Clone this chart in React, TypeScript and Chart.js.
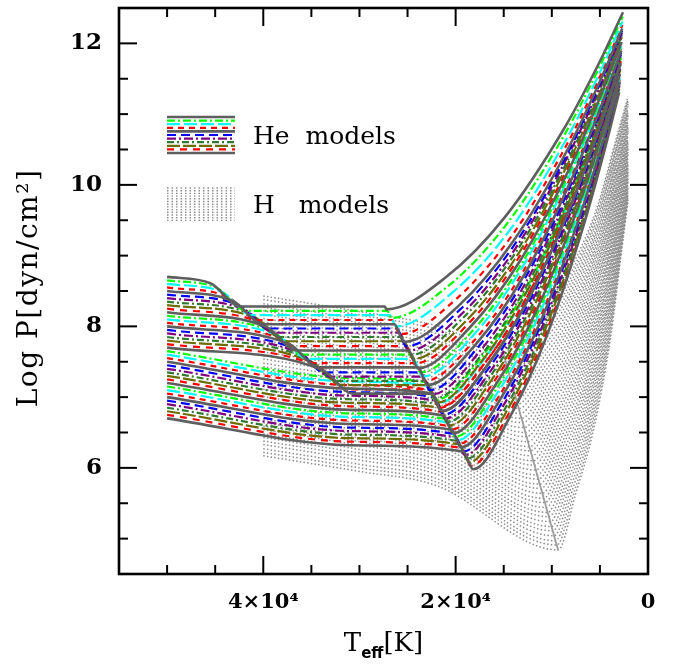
import React, { useEffect, useRef } from "react";
import { Chart, registerables } from "chart.js";

Chart.register(...registerables);

// ---------------- Axis ticks / labels ----------------
const X_LABEL_TICKS = [0, 20000, 40000];
const X_MINOR_TICKS = [5000, 10000, 15000, 25000, 30000, 35000, 45000, 50000];
const Y_LABEL_TICKS = [6, 8, 10, 12];
const Y_MINOR_TICKS = [5, 5.5, 6.5, 7, 7.5, 8.5, 9, 9.5, 10.5, 11, 11.5];
const Y_TITLE = "Log P[dyn/cm\u00B2]";
const X_TITLE_MAIN = "T";
const X_TITLE_SUB = "eff";
const X_TITLE_UNIT = "[K]";
const LEGEND_LABELS = ["He  models", "H   models"];

// ---------------- He models (41 curves, top -> bottom), Teff in kK ----------------
const HE_START_T = 50;
const HE_START_P = [8.70, 8.65, 8.60, 8.55, 8.50, 8.45, 8.40, 8.35, 8.30, 8.25, 8.20, 8.15, 8.10, 8.05, 8.00, 7.95, 7.90, 7.85, 7.80, 7.75, 7.70, 7.65, 7.60, 7.55, 7.50, 7.45, 7.40, 7.35, 7.30, 7.25, 7.20, 7.15, 7.10, 7.05, 7.00, 6.95, 6.90, 6.85, 6.80, 6.75, 6.70];
const HE_STEP_T = [45.49, 44.91, 44.32, 43.74, 43.15, 42.57, 41.99, 41.40, 40.82, 40.23, 39.65, 39.07, 38.48, 37.90, 37.31, 36.73, 36.15, 35.56, 34.98, 34.39, 33.81, null, null, null, null, null, null, null, null, null, null, null, null, null, null, null, null, null, null, null, null];
const HE_STEP_P = [8.61, 8.55, 8.49, 8.42, 8.36, 8.30, 8.24, 8.18, 8.12, 8.05, 7.99, 7.93, 7.87, 7.81, 7.75, 7.68, 7.62, 7.56, 7.50, 7.44, 7.38, null, null, null, null, null, null, null, null, null, null, null, null, null, null, null, null, null, null, null, null];
const HE_KNEE_T = [42.37, 41.79, 41.20, 40.62, 40.03, 39.45, 38.87, 38.28, 37.70, 37.11, 36.53, 35.95, 35.36, 34.78, 34.19, 33.61, 33.03, 32.44, 31.86, 31.27, 30.69, 31, 31, 31, 31, 31, 31, 31, 31, 31, 31, 31, 31, 31, 31, 31, 31, 31, 31, 31, 31];
const HE_KNEE_P = [8.28, 8.22, 8.16, 8.09, 8.03, 7.97, 7.91, 7.85, 7.79, 7.72, 7.66, 7.60, 7.54, 7.48, 7.42, 7.35, 7.29, 7.23, 7.17, 7.11, 7.05, 7.27, 7.22, 7.17, 7.12, 7.07, 7.02, 6.97, 6.92, 6.87, 6.82, 6.77, 6.72, 6.67, 6.62, 6.57, 6.52, 6.47, 6.42, 6.37, 6.32];
const HE_FOLD_T = [27.36, 27.11, 26.86, 26.62, 26.37, 26.13, 25.88, 25.64, 25.39, 25.15, 24.90, 24.66, 24.41, 24.17, 23.92, 23.68, 23.43, 23.19, 22.94, 22.69, 22.45, 23.09, 22.88, 22.68, 22.47, 22.27, 22.06, 21.86, 21.65, 21.45, 21.24, 21.04, 20.83, 20.63, 20.42, 20.21, 20.01, 19.80, 19.60, 19.39, 19.19];
const HE_FOLD_P = [8.28, 8.22, 8.16, 8.09, 8.03, 7.97, 7.91, 7.85, 7.79, 7.72, 7.66, 7.60, 7.54, 7.48, 7.42, 7.35, 7.29, 7.23, 7.17, 7.11, 7.05, 7.21, 7.16, 7.10, 7.05, 7.00, 6.95, 6.90, 6.85, 6.79, 6.74, 6.69, 6.64, 6.59, 6.54, 6.48, 6.43, 6.38, 6.33, 6.28, 6.23];
const HE_MIN_T = [27.20, 26.71, 26.22, 25.78, 25.38, 25.14, 24.89, 24.64, 24.40, 24.15, 23.91, 23.66, 23.42, 23.17, 22.93, 22.68, 22.44, 22.19, 21.95, 21.70, 21.45, 22.10, 21.89, 21.68, 21.48, 21.27, 21.07, 20.86, 20.66, 20.45, 20.25, 20.04, 19.84, 19.63, 19.43, 19.22, 19.02, 18.81, 18.61, 18.40, 18.19];
const HE_MIN_P = [8.24, 8.12, 8.00, 7.89, 7.78, 7.72, 7.66, 7.60, 7.54, 7.48, 7.41, 7.35, 7.29, 7.23, 7.17, 7.10, 7.04, 6.98, 6.92, 6.86, 6.80, 6.96, 6.91, 6.85, 6.80, 6.75, 6.70, 6.65, 6.60, 6.54, 6.49, 6.44, 6.39, 6.34, 6.29, 6.23, 6.18, 6.13, 6.08, 6.03, 5.98];
const HE_R1_T = [21.05, 20.69, 20.32, 20.00, 19.70, 19.52, 19.34, 19.16, 18.98, 18.80, 18.62, 18.43, 18.25, 18.07, 17.89, 17.71, 17.53, 17.35, 17.17, 16.98, 16.80, 17.28, 17.13, 16.97, 16.82, 16.67, 16.52, 16.37, 16.22, 16.06, 15.91, 15.76, 15.61, 15.46, 15.31, 15.15, 15.00, 14.85, 14.70, 14.55, 14.40];
const HE_R1_P = [8.69, 8.58, 8.48, 8.38, 8.29, 8.24, 8.18, 8.13, 8.07, 8.02, 7.97, 7.91, 7.86, 7.80, 7.75, 7.70, 7.64, 7.59, 7.53, 7.48, 7.43, 7.57, 7.52, 7.48, 7.43, 7.39, 7.34, 7.30, 7.25, 7.21, 7.16, 7.12, 7.07, 7.02, 6.98, 6.93, 6.89, 6.84, 6.80, 6.75, 6.71];
const HE_R2_T = [14.90, 14.67, 14.43, 14.22, 14.03, 13.91, 13.79, 13.68, 13.56, 13.44, 13.33, 13.21, 13.09, 12.97, 12.86, 12.74, 12.62, 12.51, 12.39, 12.27, 12.15, 12.46, 12.36, 12.26, 12.17, 12.07, 11.97, 11.87, 11.77, 11.67, 11.58, 11.48, 11.38, 11.28, 11.18, 11.09, 10.99, 10.89, 10.79, 10.69, 10.60];
const HE_R2_P = [9.54, 9.45, 9.35, 9.27, 9.20, 9.15, 9.10, 9.06, 9.01, 8.97, 8.92, 8.87, 8.83, 8.78, 8.73, 8.69, 8.64, 8.60, 8.55, 8.50, 8.46, 8.58, 8.54, 8.50, 8.46, 8.42, 8.38, 8.35, 8.31, 8.27, 8.23, 8.19, 8.15, 8.11, 8.07, 8.04, 8.00, 7.96, 7.92, 7.88, 7.84];
const HE_R3_T = [8.75, 8.64, 8.54, 8.44, 8.36, 8.30, 8.25, 8.19, 8.14, 8.09, 8.03, 7.98, 7.93, 7.88, 7.82, 7.77, 7.72, 7.66, 7.61, 7.56, 7.50, 7.64, 7.60, 7.55, 7.51, 7.46, 7.42, 7.37, 7.33, 7.29, 7.24, 7.20, 7.15, 7.11, 7.06, 7.02, 6.97, 6.93, 6.89, 6.84, 6.80];
const HE_R3_P = [10.79, 10.72, 10.63, 10.57, 10.50, 10.46, 10.43, 10.39, 10.35, 10.31, 10.27, 10.23, 10.20, 10.16, 10.12, 10.08, 10.04, 10.00, 9.96, 9.93, 9.89, 9.99, 9.96, 9.92, 9.89, 9.86, 9.83, 9.79, 9.76, 9.73, 9.70, 9.67, 9.63, 9.60, 9.57, 9.54, 9.50, 9.47, 9.44, 9.41, 9.38];
const HE_R4_T = [5.06, 5.03, 5.00, 4.97, 4.95, 4.93, 4.92, 4.90, 4.89, 4.88, 4.86, 4.85, 4.83, 4.82, 4.80, 4.79, 4.77, 4.76, 4.74, 4.73, 4.71, 4.75, 4.74, 4.73, 4.71, 4.70, 4.69, 4.68, 4.66, 4.65, 4.64, 4.63, 4.62, 4.60, 4.59, 4.58, 4.57, 4.55, 4.54, 4.53, 4.52];
const HE_R4_P = [11.73, 11.67, 11.59, 11.54, 11.48, 11.45, 11.41, 11.38, 11.34, 11.31, 11.28, 11.24, 11.21, 11.17, 11.14, 11.11, 11.07, 11.04, 11.01, 10.97, 10.94, 11.03, 11.00, 10.97, 10.94, 10.91, 10.88, 10.86, 10.83, 10.80, 10.77, 10.74, 10.71, 10.69, 10.66, 10.63, 10.60, 10.57, 10.54, 10.52, 10.49];
const HE_END_T = [2.60, 2.62, 2.64, 2.66, 2.68, 2.69, 2.70, 2.71, 2.72, 2.73, 2.74, 2.75, 2.76, 2.78, 2.79, 2.80, 2.81, 2.82, 2.83, 2.84, 2.85, 2.82, 2.83, 2.84, 2.85, 2.86, 2.87, 2.88, 2.89, 2.90, 2.91, 2.92, 2.92, 2.93, 2.94, 2.95, 2.96, 2.97, 2.98, 2.99, 3.00];
const HE_END_P = [12.44, 12.38, 12.31, 12.26, 12.21, 12.18, 12.15, 12.12, 12.09, 12.06, 12.02, 11.99, 11.96, 11.93, 11.90, 11.87, 11.84, 11.81, 11.78, 11.75, 11.72, 11.80, 11.77, 11.75, 11.72, 11.70, 11.67, 11.64, 11.62, 11.59, 11.57, 11.54, 11.51, 11.49, 11.46, 11.44, 11.41, 11.39, 11.36, 11.33, 11.31];

// ---------------- H models (44 curves, top -> bottom), Teff in kK ----------------
const H_FIXED_T = [40, 30, 22];
const H_P40 = [8.43, 8.38, 8.32, 8.27, 8.22, 8.17, 8.11, 8.06, 8.01, 7.96, 7.90, 7.85, 7.80, 7.75, 7.69, 7.64, 7.59, 7.54, 7.48, 7.43, 7.38, 7.33, 7.27, 7.22, 7.17, 7.11, 7.06, 7.01, 6.96, 6.90, 6.85, 6.80, 6.75, 6.69, 6.64, 6.59, 6.54, 6.48, 6.43, 6.38, 6.33, 6.27, 6.22, 6.17];
const H_P30 = [8.21, 8.16, 8.10, 8.05, 8.00, 7.95, 7.89, 7.84, 7.79, 7.74, 7.68, 7.63, 7.58, 7.53, 7.47, 7.42, 7.37, 7.32, 7.26, 7.21, 7.16, 7.11, 7.05, 7.00, 6.95, 6.89, 6.84, 6.79, 6.74, 6.68, 6.63, 6.58, 6.53, 6.47, 6.42, 6.37, 6.32, 6.26, 6.21, 6.16, 6.11, 6.05, 6.00, 5.95];
const H_P22 = [8.01, 7.96, 7.90, 7.85, 7.80, 7.75, 7.69, 7.64, 7.59, 7.54, 7.48, 7.43, 7.38, 7.33, 7.27, 7.22, 7.17, 7.12, 7.06, 7.01, 6.96, 6.91, 6.85, 6.80, 6.75, 6.69, 6.64, 6.59, 6.54, 6.48, 6.43, 6.38, 6.33, 6.27, 6.22, 6.17, 6.12, 6.06, 6.01, 5.96, 5.91, 5.85, 5.80, 5.75];
const H_MIN_T = [15.20, 15.06, 14.93, 14.79, 14.66, 14.52, 14.38, 14.25, 14.11, 13.98, 13.84, 13.70, 13.57, 13.43, 13.30, 13.16, 13.02, 12.89, 12.75, 12.62, 12.48, 12.34, 12.21, 12.07, 11.94, 11.80, 11.66, 11.53, 11.39, 11.26, 11.12, 10.98, 10.85, 10.71, 10.58, 10.44, 10.30, 10.17, 10.03, 9.90, 9.76, 9.62, 9.49, 9.35];
const H_MIN_P = [7.70, 7.63, 7.57, 7.50, 7.43, 7.37, 7.30, 7.23, 7.17, 7.10, 7.04, 6.97, 6.90, 6.84, 6.77, 6.70, 6.64, 6.57, 6.50, 6.44, 6.37, 6.30, 6.24, 6.17, 6.10, 6.04, 5.97, 5.90, 5.84, 5.77, 5.71, 5.64, 5.57, 5.51, 5.44, 5.37, 5.31, 5.24, 5.17, 5.11, 5.04, 4.97, 4.91, 4.84];
const H_R1_T = [11.92, 11.82, 11.71, 11.61, 11.51, 11.41, 11.31, 11.20, 11.10, 11.00, 10.90, 10.80, 10.69, 10.59, 10.49, 10.39, 10.29, 10.18, 10.08, 9.98, 9.88, 9.78, 9.67, 9.57, 9.47, 9.37, 9.27, 9.16, 9.06, 8.96, 8.86, 8.76, 8.65, 8.55, 8.45, 8.35, 8.25, 8.14, 8.04, 7.94, 7.84, 7.74, 7.63, 7.53];
const H_R1_P = [8.14, 8.08, 8.02, 7.96, 7.90, 7.85, 7.79, 7.73, 7.67, 7.61, 7.55, 7.49, 7.44, 7.38, 7.32, 7.26, 7.20, 7.14, 7.09, 7.03, 6.97, 6.91, 6.85, 6.79, 6.74, 6.68, 6.62, 6.56, 6.50, 6.44, 6.38, 6.33, 6.27, 6.21, 6.15, 6.09, 6.03, 5.98, 5.92, 5.86, 5.80, 5.74, 5.68, 5.63];
const H_R2_T = [8.64, 8.57, 8.50, 8.43, 8.36, 8.30, 8.23, 8.16, 8.09, 8.02, 7.96, 7.89, 7.82, 7.75, 7.68, 7.62, 7.55, 7.48, 7.41, 7.34, 7.28, 7.21, 7.14, 7.07, 7.00, 6.94, 6.87, 6.80, 6.73, 6.66, 6.60, 6.53, 6.46, 6.39, 6.32, 6.26, 6.19, 6.12, 6.05, 5.98, 5.92, 5.85, 5.78, 5.71];
const H_R2_P = [8.68, 8.62, 8.57, 8.52, 8.47, 8.42, 8.37, 8.32, 8.27, 8.22, 8.17, 8.12, 8.07, 8.02, 7.97, 7.92, 7.87, 7.82, 7.77, 7.72, 7.67, 7.62, 7.57, 7.52, 7.47, 7.42, 7.37, 7.32, 7.27, 7.21, 7.16, 7.11, 7.06, 7.01, 6.96, 6.91, 6.86, 6.81, 6.76, 6.71, 6.66, 6.61, 6.56, 6.51];
const H_R3_T = [5.35, 5.32, 5.28, 5.25, 5.22, 5.18, 5.15, 5.11, 5.08, 5.05, 5.01, 4.98, 4.94, 4.91, 4.88, 4.84, 4.81, 4.77, 4.74, 4.71, 4.67, 4.64, 4.60, 4.57, 4.54, 4.50, 4.47, 4.43, 4.40, 4.37, 4.33, 4.30, 4.26, 4.23, 4.20, 4.16, 4.13, 4.09, 4.06, 4.03, 3.99, 3.96, 3.92, 3.89];
const H_R3_P = [9.66, 9.62, 9.58, 9.54, 9.49, 9.45, 9.41, 9.37, 9.32, 9.28, 9.24, 9.20, 9.16, 9.11, 9.07, 9.03, 8.99, 8.94, 8.90, 8.86, 8.82, 8.77, 8.73, 8.69, 8.65, 8.61, 8.56, 8.52, 8.48, 8.44, 8.39, 8.35, 8.31, 8.27, 8.23, 8.18, 8.14, 8.10, 8.06, 8.01, 7.97, 7.93, 7.89, 7.84];
const H_R4_T = [3.38, 3.37, 3.36, 3.34, 3.33, 3.32, 3.30, 3.29, 3.27, 3.26, 3.25, 3.23, 3.22, 3.21, 3.19, 3.18, 3.17, 3.15, 3.14, 3.12, 3.11, 3.10, 3.08, 3.07, 3.06, 3.04, 3.03, 3.02, 3.00, 2.99, 2.98, 2.96, 2.95, 2.93, 2.92, 2.91, 2.89, 2.88, 2.87, 2.85, 2.84, 2.83, 2.81, 2.80];
const H_R4_P = [10.62, 10.58, 10.54, 10.50, 10.47, 10.43, 10.39, 10.35, 10.32, 10.28, 10.24, 10.20, 10.17, 10.13, 10.09, 10.05, 10.02, 9.98, 9.94, 9.90, 9.87, 9.83, 9.79, 9.75, 9.72, 9.68, 9.64, 9.60, 9.57, 9.53, 9.49, 9.45, 9.42, 9.38, 9.34, 9.31, 9.27, 9.23, 9.19, 9.16, 9.12, 9.08, 9.04, 9.01];
const H_END_T = 2.07;
const H_END_P = [11.25, 11.22, 11.18, 11.15, 11.11, 11.08, 11.04, 11.01, 10.98, 10.94, 10.91, 10.87, 10.84, 10.81, 10.77, 10.74, 10.70, 10.67, 10.63, 10.60, 10.57, 10.53, 10.50, 10.46, 10.43, 10.40, 10.36, 10.33, 10.29, 10.26, 10.22, 10.19, 10.16, 10.12, 10.09, 10.05, 10.02, 9.98, 9.95, 9.92, 9.88, 9.85, 9.81, 9.78];

// ---------------- Styles ----------------
const HE_STYLES = [
  { color: "#5e5e5e", width: 2.6, dash: [] as number[] },
  { color: "#00ff00", width: 2.2, dash: [8, 3, 2, 3] },
  { color: "#00ffff", width: 2.2, dash: [13, 4] },
  { color: "#ff0000", width: 2.2, dash: [6, 5] },
  { color: "#5e5e5e", width: 2.6, dash: [] as number[] },
  { color: "#0000ff", width: 2.2, dash: [9, 5] },
  { color: "#7f007f", width: 2.2, dash: [9, 3, 2, 3] },
  { color: "#2f7a2f", width: 2.2, dash: [7, 3, 2, 3] },
  { color: "#6b6b00", width: 2.2, dash: [13, 3] },
  { color: "#ff0000", width: 2.2, dash: [7, 6] },
];
const H_STYLE = { color: "#8c8c8c", width: 1.5, dash: [1.5, 2.2] };
const H_MIN_STYLE = { color: "#9c9c9c", width: 1.8 };

function heCurve(k: number) {
  const pts: { x: number; y: number }[] = [];
  const add = (t: number | null, p: number | null) => {
    if (t != null && p != null) pts.push({ x: t * 1000, y: p });
  };
  add(HE_START_T, HE_START_P[k]);
  add(HE_STEP_T[k], HE_STEP_P[k]);
  add(HE_KNEE_T[k], HE_KNEE_P[k]);
  add(HE_FOLD_T[k], HE_FOLD_P[k]);
  add(HE_MIN_T[k], HE_MIN_P[k]);
  add(HE_R1_T[k], HE_R1_P[k]);
  add(HE_R2_T[k], HE_R2_P[k]);
  add(HE_R3_T[k], HE_R3_P[k]);
  add(HE_R4_T[k], HE_R4_P[k]);
  add(HE_END_T[k], HE_END_P[k]);
  return pts;
}

function hCurve(j: number) {
  return [
    { x: H_FIXED_T[0] * 1000, y: H_P40[j] },
    { x: H_FIXED_T[1] * 1000, y: H_P30[j] },
    { x: H_FIXED_T[2] * 1000, y: H_P22[j] },
    { x: H_MIN_T[j] * 1000, y: H_MIN_P[j] },
    { x: H_R1_T[j] * 1000, y: H_R1_P[j] },
    { x: H_R2_T[j] * 1000, y: H_R2_P[j] },
    { x: H_R3_T[j] * 1000, y: H_R3_P[j] },
    { x: H_R4_T[j] * 1000, y: H_R4_P[j] },
    { x: H_END_T * 1000, y: H_END_P[j] },
  ];
}

const SERIF = '"DejaVu Serif", "Liberation Serif", serif';

const decorPlugin = {
  id: "decor",
  afterDraw(chart: any) {
    const { ctx, chartArea: a, scales } = chart;
    const xs = scales.x;
    const ys = scales.y;
    ctx.save();
    ctx.strokeStyle = "#000";
    ctx.fillStyle = "#000";
    ctx.setLineDash([]);
    ctx.lineCap = "butt";
    const seg = (x1: number, y1: number, x2: number, y2: number) => {
      ctx.beginPath();
      ctx.moveTo(x1, y1);
      ctx.lineTo(x2, y2);
      ctx.stroke();
    };
    const MAJ = 18;
    const MIN = 9;
    ctx.lineWidth = 2;
    const xt: [number, number][] = [
      ...X_LABEL_TICKS.map((v) => [v, MAJ] as [number, number]),
      ...X_MINOR_TICKS.map((v) => [v, MIN] as [number, number]),
    ];
    xt.forEach(([v, len]) => {
      const px = xs.getPixelForValue(v);
      seg(px, a.bottom, px, a.bottom - len);
      seg(px, a.top, px, a.top + len);
    });
    const yt: [number, number][] = [
      ...Y_LABEL_TICKS.map((v) => [v, MAJ] as [number, number]),
      ...Y_MINOR_TICKS.map((v) => [v, MIN] as [number, number]),
    ];
    yt.forEach(([v, len]) => {
      const py = ys.getPixelForValue(v);
      seg(a.left, py, a.left + len, py);
      seg(a.right, py, a.right - len, py);
    });
    ctx.lineWidth = 2.6;
    ctx.strokeRect(a.left, a.top, a.right - a.left, a.bottom - a.top);

    // legend: He
    const lx0 = a.left + 48;
    const lx1 = a.left + 116;
    for (let i = 0; i <= 10; i++) {
      const st = HE_STYLES[i % 10];
      const y = 117 + i * 3.6;
      ctx.strokeStyle = st.color;
      ctx.lineWidth = st.width;
      ctx.setLineDash(st.dash);
      seg(lx0, y, lx1, y);
    }
    // legend: H
    ctx.strokeStyle = H_STYLE.color;
    ctx.lineWidth = 1.4;
    ctx.setLineDash([1.5, 3]);
    for (let i = 0; i < 13; i++) {
      const y = 188 + i * 2.7;
      seg(lx0, y, lx1, y);
    }
    ctx.setLineDash([]);
    ctx.fillStyle = "#000";
    ctx.font = `25px ${SERIF}`;
    ctx.textAlign = "left";
    ctx.textBaseline = "middle";
    ctx.fillText(LEGEND_LABELS[0], 253, 137);
    ctx.fillText(LEGEND_LABELS[1], 253, 206);

    // y title
    ctx.save();
    ctx.translate(30, 288);
    ctx.rotate(-Math.PI / 2);
    ctx.textAlign = "center";
    ctx.textBaseline = "middle";
    ctx.font = `28px ${SERIF}`;
    try {
      (ctx as any).letterSpacing = "1.5px";
    } catch (e) {}
    ctx.fillText(Y_TITLE, 0, 0);
    try {
      (ctx as any).letterSpacing = "0px";
    } catch (e) {}
    ctx.restore();

    // x title
    ctx.textBaseline = "alphabetic";
    ctx.textAlign = "left";
    ctx.font = `26px ${SERIF}`;
    const wT = ctx.measureText(X_TITLE_MAIN).width;
    const wK = ctx.measureText(X_TITLE_UNIT).width;
    ctx.font = `bold 15px "DejaVu Sans", sans-serif`;
    const wS = ctx.measureText(X_TITLE_SUB).width;
    const cx = (a.left + a.right) / 2;
    const x0 = cx - (wT + wS + wK) / 2;
    const base = 651;
    ctx.font = `26px ${SERIF}`;
    ctx.fillText(X_TITLE_MAIN, x0, base);
    ctx.font = `bold 15px "DejaVu Sans", sans-serif`;
    ctx.fillText(X_TITLE_SUB, x0 + wT, base + 7);
    ctx.font = `26px ${SERIF}`;
    ctx.fillText(X_TITLE_UNIT, x0 + wT + wS, base);
    ctx.restore();
  },
};

export default function App() {
  const ref = useRef<HTMLCanvasElement>(null);
  useEffect(() => {
    const canvas = ref.current;
    if (!canvas) return;
    const datasets: any[] = [];
    for (let k = 0; k < HE_START_P.length; k++) {
      const st = HE_STYLES[k % 10];
      datasets.push({
        data: heCurve(k),
        borderColor: st.color,
        borderWidth: st.width,
        borderDash: st.dash,
        pointRadius: 0,
        fill: false,
        cubicInterpolationMode: "monotone",
        order: st.dash.length ? 1 : 0,
      });
    }
    datasets.push({
      data: H_MIN_T.map((t, j) => ({ x: t * 1000, y: H_MIN_P[j] })),
      borderColor: H_MIN_STYLE.color,
      borderWidth: H_MIN_STYLE.width,
      pointRadius: 0,
      fill: false,
      cubicInterpolationMode: "monotone",
      order: 2,
    });
    for (let j = 0; j < H_P40.length; j++) {
      datasets.push({
        data: hCurve(j),
        borderColor: H_STYLE.color,
        borderWidth: H_STYLE.width,
        borderDash: H_STYLE.dash,
        pointRadius: 0,
        fill: false,
        cubicInterpolationMode: "monotone",
        order: 3,
      });
    }
    const chart = new Chart(canvas, {
      type: "line",
      data: { datasets },
      options: {
        animation: false,
        responsive: false,
        devicePixelRatio: 1,
        events: [],
        layout: { padding: { left: 0, right: 25, top: 8, bottom: 0 } },
        plugins: { legend: { display: false }, tooltip: { enabled: false } },
        scales: {
          x: {
            type: "linear",
            reverse: true,
            min: 0,
            max: 55000,
            grid: { display: false, drawTicks: false },
            border: { display: false },
            afterBuildTicks: (s: any) => {
              s.ticks = X_LABEL_TICKS.map((v) => ({ value: v }));
            },
            afterFit: (s: any) => {
              s.height = 92;
              s.paddingLeft = 0;
              s.paddingRight = 0;
            },
            ticks: {
              padding: 16,
              maxRotation: 0,
              autoSkip: false,
              color: "#000",
              font: { family: SERIF, size: 21, weight: "bold" },
              callback: (v: any) => (v === 0 ? "0" : `${v / 10000}\u00D710\u2074`),
            },
          },
          y: {
            type: "linear",
            min: 4.5,
            max: 12.5,
            grid: { display: false, drawTicks: false },
            border: { display: false },
            afterBuildTicks: (s: any) => {
              s.ticks = Y_LABEL_TICKS.map((v) => ({ value: v }));
            },
            afterFit: (s: any) => {
              s.width = 119;
              s.paddingTop = 0;
              s.paddingBottom = 0;
            },
            ticks: {
              padding: 17,
              color: "#000",
              font: { family: SERIF, size: 23, weight: "bold" },
              callback: (v: any) => String(v),
            },
          },
        },
      } as any,
      plugins: [decorPlugin],
    });
    return () => chart.destroy();
  }, []);
  return (
    <div style={{ position: "fixed", left: 0, top: 0, width: 673, height: 666, background: "#fff" }}>
      <canvas ref={ref} width={673} height={666} style={{ display: "block" }} />
    </div>
  );
}
